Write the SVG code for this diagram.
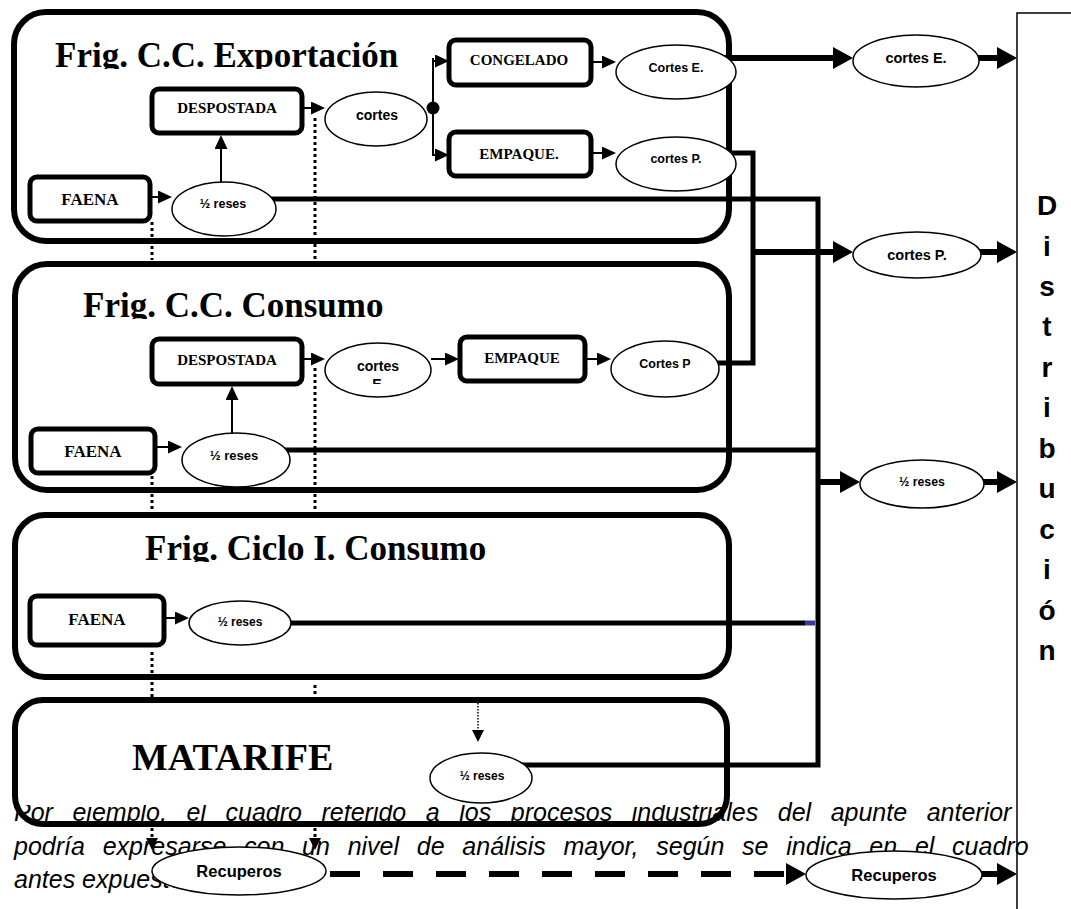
<svg xmlns="http://www.w3.org/2000/svg" width="1071" height="909" viewBox="0 0 1071 909">
<style>
.ctr{fill:none;stroke:#000;stroke-width:6}
.box{fill:#fff;stroke:#000;stroke-width:5}
.ell{fill:#fff;stroke:#000;stroke-width:1.5}
.title{font-family:"Liberation Serif","Times New Roman",serif;font-weight:bold;font-size:35px;fill:#000}
.bl{font-family:"Liberation Serif","Times New Roman",serif;font-weight:bold;font-size:15px;text-anchor:middle}
.el{font-family:"Liberation Sans",Arial,sans-serif;font-weight:bold;text-anchor:middle}
.para{font-family:"Liberation Sans",Arial,sans-serif;font-style:italic;font-size:25px}
.dist{font-family:"Liberation Sans",Arial,sans-serif;font-weight:bold;font-size:28px;text-anchor:middle}
.thin{fill:none;stroke:#000;stroke-width:2}
.mid{fill:none;stroke:#000;stroke-width:5}
.thick{fill:none;stroke:#000;stroke-width:6}
.dot{fill:none;stroke:#000;stroke-width:3;stroke-dasharray:3 3}
</style>
<defs>
<marker id="ab" viewBox="0 0 20 22" markerWidth="20" markerHeight="22" refX="5" refY="11" orient="auto" markerUnits="userSpaceOnUse"><path d="M0,0L20,11L0,22z"/></marker>
<marker id="as" viewBox="0 0 14 13" markerWidth="14" markerHeight="13" refX="4" refY="6.5" orient="auto" markerUnits="userSpaceOnUse"><path d="M0,0L14,6.5L0,13z"/></marker>
<marker id="ad" viewBox="0 0 12 12" markerWidth="12" markerHeight="12" refX="2" refY="6" orient="auto" markerUnits="userSpaceOnUse"><path d="M0,0L12,6L0,12z"/></marker>
<clipPath id="c1"><rect x="0" y="0" width="740" height="69"/></clipPath>
<clipPath id="c2"><rect x="0" y="260" width="740" height="59"/></clipPath>
<clipPath id="c3"><rect x="0" y="512" width="740" height="50"/></clipPath>
<clipPath id="cE"><rect x="330" y="340" width="100" height="44"/></clipPath>
</defs>
<rect width="1071" height="909" fill="#fff"/>

<g id="paragraph" class="para">
<text x="14" y="821" word-spacing="12.6">Por ejemplo, el cuadro referido a los procesos industriales del apunte anterior</text>
<text x="14" y="855" word-spacing="10.8">podría expresarse con un nivel de análisis mayor, según se indica en el cuadro</text>
<text x="14" y="888">antes expuesto.</text>
</g>

<g id="distribucion">
<path d="M1071,13H1017V909" fill="none" stroke="#000" stroke-width="1.5"/>
<g class="dist">
<text x="1047" y="215">D</text><text x="1047" y="256">i</text><text x="1047" y="296">s</text><text x="1047" y="336">t</text>
<text x="1047" y="377">r</text><text x="1047" y="417">i</text><text x="1047" y="458">b</text><text x="1047" y="498">u</text>
<text x="1047" y="539">c</text><text x="1047" y="579">i</text><text x="1047" y="620">ó</text><text x="1047" y="660">n</text>
</g>
</g>

<g id="frig-exportacion">
<rect class="ctr" x="14" y="12" width="715" height="229" rx="32"/>
<text class="title" x="55" y="67" clip-path="url(#c1)">Frig. C.C. Exportación</text>
</g>
<g id="frig-consumo">
<rect class="ctr" x="15" y="264" width="714" height="226" rx="32"/>
<text class="title" x="83" y="317" clip-path="url(#c2)">Frig. C.C. Consumo</text>
</g>
<g id="frig-ciclo">
<rect class="ctr" x="15" y="515" width="714" height="162" rx="30"/>
<text class="title" x="145" y="560" clip-path="url(#c3)">Frig. Ciclo I. Consumo</text>
</g>
<g id="matarife">
<rect x="18" y="703" width="706" height="102" fill="#fff"/>
<rect class="ctr" x="15" y="700" width="712" height="124" rx="28"/>
<text class="title" x="132" y="770" style="font-size:38px">MATARIFE</text>
</g>

<g id="connectors">
<path class="thin" d="M150,197H162" marker-end="url(#as)"/>
<path class="thin" d="M221,183V145" marker-end="url(#as)"/>
<path class="thin" d="M304,108H315" marker-end="url(#as)"/>
<path class="thin" d="M433,58V156"/>
<circle cx="433" cy="108" r="6.5"/>
<path class="thin" d="M433,61H439" marker-end="url(#as)"/>
<path class="thin" d="M433,155H439" marker-end="url(#as)"/>
<path class="thin" d="M593,62H606" marker-end="url(#as)"/>
<path class="thin" d="M593,153H606" marker-end="url(#as)"/>
<path class="thin" d="M304,359H315" marker-end="url(#as)"/>
<path class="thin" d="M431,359H449" marker-end="url(#as)"/>
<path class="thin" d="M587,359H601" marker-end="url(#as)"/>
<path class="thin" d="M155,447H172" marker-end="url(#as)"/>
<path class="thin" d="M232,434V396" marker-end="url(#as)"/>
<path class="thin" d="M164,618H179" marker-end="url(#as)"/>
<path class="thick" d="M700,58H838" marker-end="url(#ab)"/>
<path class="thick" d="M970,58H1002" marker-end="url(#ab)"/>
<path class="mid" d="M700,153H753V363H690"/>
<path class="thick" d="M753,252H838" marker-end="url(#ab)"/>
<path class="thick" d="M970,252H1002" marker-end="url(#ab)"/>
<path class="mid" d="M260,199H818V765H500"/>
<path class="mid" d="M270,450H818"/>
<path class="mid" d="M270,623H805"/>
<path d="M805,623H815" fill="none" stroke="#3a3aa0" stroke-width="5"/>
<path class="thick" d="M818,482H845" marker-end="url(#ab)"/>
<path class="thick" d="M975,482H1002" marker-end="url(#ab)"/>
<path class="thick" d="M330,874H791" stroke-dasharray="30 23" marker-end="url(#ab)"/>
<path class="thick" d="M975,874H1002" marker-end="url(#ab)"/>
<path class="dot" d="M152,222V260"/>
<path class="dot" d="M152,476V512"/>
<path class="dot" d="M152,652V697"/>
<path class="dot" d="M152,828V840" marker-end="url(#ad)"/>
<path class="dot" d="M315,118V260"/>
<path class="dot" d="M315,368V512"/>
<path class="dot" d="M315,685V697"/>
<path class="dot" d="M315,828V840" marker-end="url(#ad)"/>
<path d="M478,703V732" fill="none" stroke="#000" stroke-width="1.5" stroke-dasharray="1.5 1.5" marker-end="url(#ad)"/>
</g>

<g id="exp-faena"><rect class="box" x="30" y="177" width="120" height="44" rx="7"/><text class="bl" x="90" y="205" style="font-size:17px">FAENA</text></g>
<g id="exp-despostada"><rect class="box" x="152" y="89" width="150" height="44" rx="7"/><text class="bl" x="227" y="113">DESPOSTADA</text></g>
<g id="exp-cortes"><ellipse class="ell" cx="376" cy="119" rx="51" ry="27"/><text class="el" x="377" y="120" font-size="14">cortes</text></g>
<g id="exp-reses"><ellipse class="ell" cx="224" cy="209" rx="52" ry="27"/><text class="el" x="223" y="208" font-size="12.5">½ reses</text></g>
<g id="exp-congelado"><rect class="box" x="449" y="40" width="142" height="45" rx="7"/><text class="bl" x="519" y="65">CONGELADO</text></g>
<g id="exp-empaque"><rect class="box" x="449" y="132" width="142" height="44" rx="7"/><text class="bl" x="519" y="159">EMPAQUE.</text></g>
<g id="exp-cortes-e"><ellipse class="ell" cx="676" cy="72" rx="60" ry="27"/><text class="el" x="676" y="72" font-size="12.5">Cortes E.</text></g>
<g id="exp-cortes-p"><ellipse class="ell" cx="676" cy="164" rx="60" ry="27"/><text class="el" x="676" y="163" font-size="12.5">cortes P.</text></g>

<g id="con-despostada"><rect class="box" x="152" y="339" width="150" height="45" rx="7"/><text class="bl" x="227" y="365">DESPOSTADA</text></g>
<g id="con-cortes"><ellipse class="ell" cx="378" cy="370" rx="53" ry="27"/><text class="el" x="378" y="371" font-size="14">cortes</text><text class="el" x="377" y="389" font-size="14" clip-path="url(#cE)">E</text></g>
<g id="con-faena"><rect class="box" x="31" y="429" width="124" height="44" rx="7"/><text class="bl" x="93" y="457" style="font-size:17px">FAENA</text></g>
<g id="con-reses"><ellipse class="ell" cx="236" cy="460" rx="54" ry="27"/><text class="el" x="234" y="460" font-size="13">½ reses</text></g>
<g id="con-empaque"><rect class="box" x="460" y="337" width="125" height="44" rx="7"/><text class="bl" x="522" y="363">EMPAQUE</text></g>
<g id="con-cortes-p"><ellipse class="ell" cx="665" cy="369" rx="54" ry="28"/><text class="el" x="665" y="368" font-size="12.5">Cortes P</text></g>

<g id="cic-faena"><rect class="box" x="30" y="596" width="134" height="49" rx="7"/><text class="bl" x="97" y="625" style="font-size:17px">FAENA</text></g>
<g id="cic-reses"><ellipse class="ell" cx="240" cy="623" rx="51" ry="22"/><text class="el" x="240" y="626" font-size="12">½ reses</text></g>

<g id="mat-reses"><ellipse class="ell" cx="481" cy="778" rx="51" ry="25"/><text class="el" x="482" y="780" font-size="12">½ reses</text></g>

<g id="dist-cortes-e"><ellipse class="ell" cx="916" cy="61" rx="63" ry="26"/><text class="el" x="916" y="63" font-size="14.5">cortes E.</text></g>
<g id="dist-cortes-p"><ellipse class="ell" cx="917" cy="255" rx="64" ry="23"/><text class="el" x="917" y="260" font-size="14.5">cortes P.</text></g>
<g id="dist-reses"><ellipse class="ell" cx="922" cy="484" rx="62" ry="24"/><text class="el" x="922" y="486" font-size="12.3">½ reses</text></g>
<g id="recuperos-1"><ellipse class="ell" cx="239" cy="871" rx="87" ry="24"/><text class="el" x="239" y="877" font-size="16.5">Recuperos</text></g>
<g id="recuperos-2"><ellipse class="ell" cx="894" cy="875" rx="88" ry="24"/><text class="el" x="894" y="881" font-size="16.5">Recuperos</text></g>
</svg>
